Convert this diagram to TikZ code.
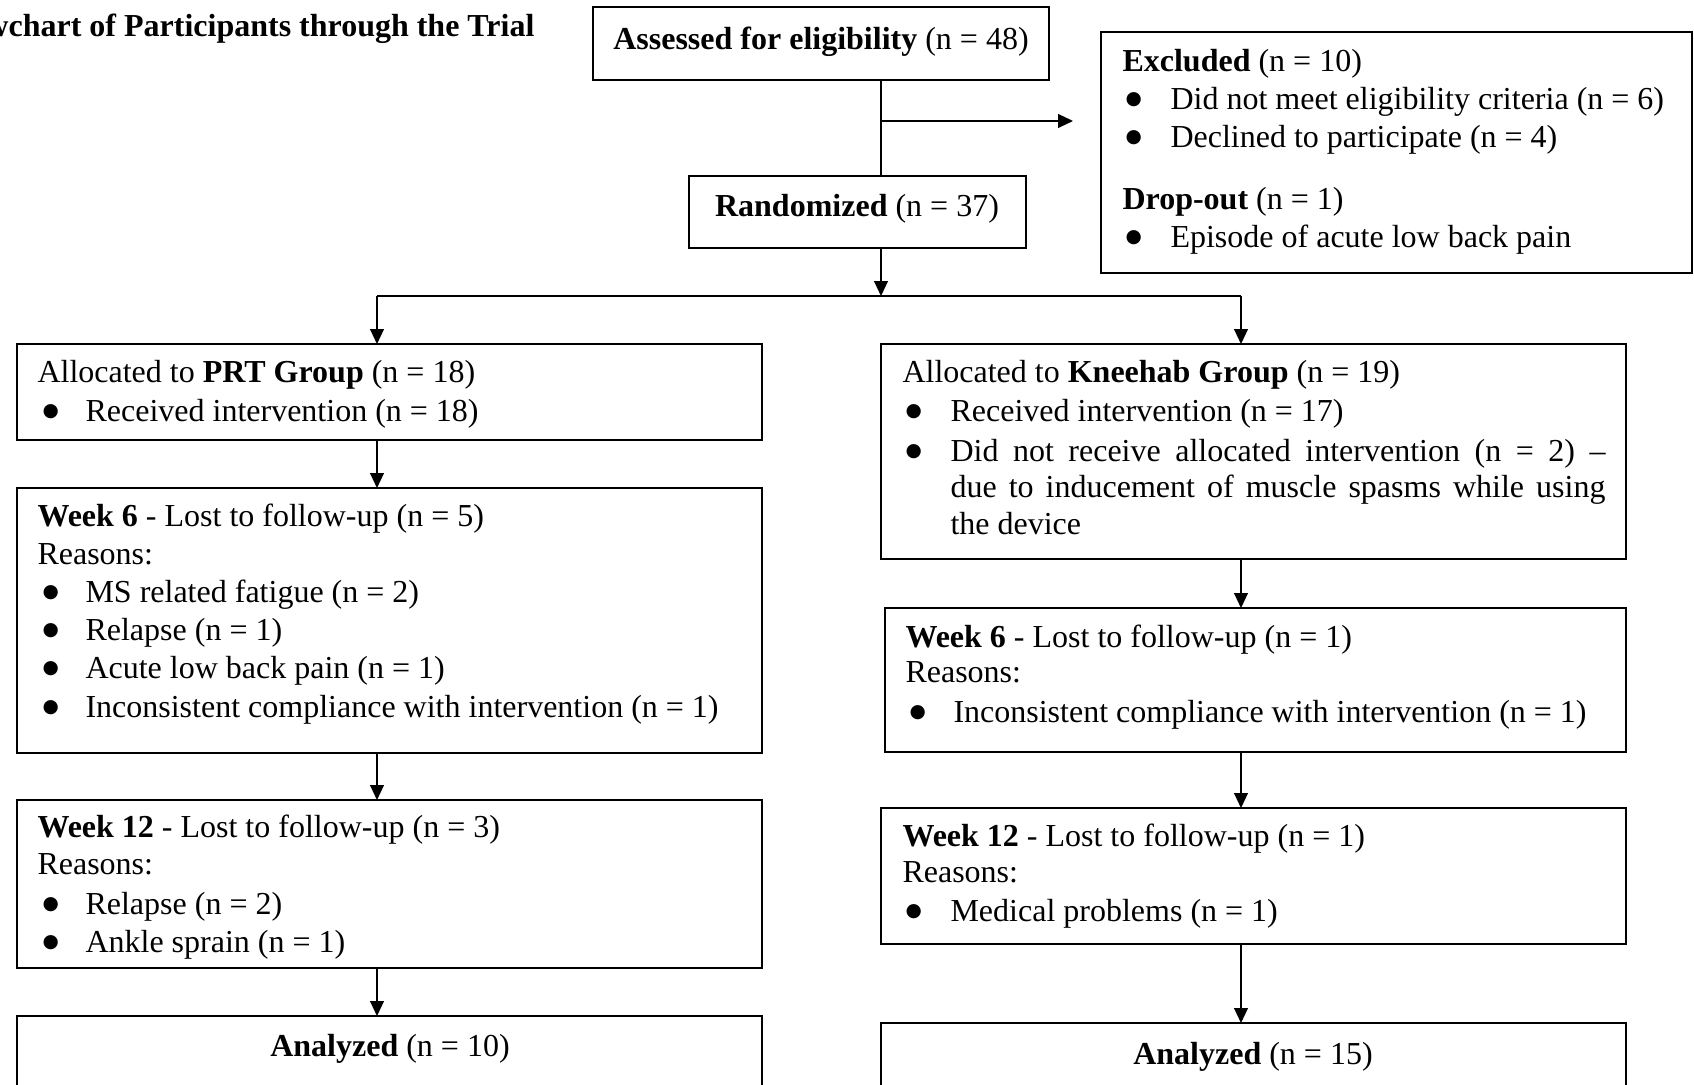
\documentclass[tikz,border=0pt]{standalone}
\usepackage{fontspec}
\setmainfont{Liberation Serif}
\newfontfamily\bulfont{DejaVu Sans}
\usetikzlibrary{arrows.meta,calc}
\newcommand{\flowbx}[5]{\node[flowbox, minimum width={(#4-#2)*0.375pt}, minimum height={(#5-#3)*0.375pt}] (#1) at (#2,#3) {};}
\newcommand{\blt}{\raisebox{1.9pt}{\bulfont\fontsize{7}{7.5}\selectfont ●}}
\begin{document}
\begin{tikzpicture}[x=0.375pt,y=-0.375pt,
  flowbox/.style={draw, line width=0.75pt, anchor=north west, inner sep=0pt, outer sep=0pt},
  txt/.style={anchor=base west, inner sep=0pt, font=\fontsize{12}{14.25}\selectfont},
  ctr/.style={anchor=base, inner sep=0pt, font=\fontsize{12}{14.25}\selectfont},
  conn/.style={line width=0.5pt},
  arr/.style={line width=0.5pt, -{Triangle[length=5.6pt,width=5.2pt]}}]
\useasboundingbox (0,0) rectangle (1694,1085);
\clip (0,0) rectangle (1694,1085);

% title
\node[anchor=base east, inner sep=0pt, font=\fontsize{12}{14.25}\selectfont\bfseries] (title) at (535,37) {Flowchart of Participants through the Trial};

% boxes
\flowbx{assess}{593}{7}{1049}{80}
\flowbx{rand}{689}{176}{1026}{248}
\flowbx{excl}{1101}{32}{1692}{273}
\flowbx{prt}{17}{344}{762}{440}
\flowbx{pwsix}{17}{488}{762}{753}
\flowbx{pwtw}{17}{800}{762}{968}
\flowbx{pan}{17}{1016}{762}{1110}
\flowbx{kal}{881}{344}{1626}{559}
\flowbx{kwsix}{885}{608}{1626}{752}
\flowbx{kwtw}{881}{808}{1626}{944}
\flowbx{kan}{881}{1023}{1626}{1110}

% top texts
\node[ctr] (tassess) at (821,50) {\textbf{Assessed for eligibility} (n = 48)};
\node[ctr] (trand) at (857,217) {\textbf{Randomized} (n = 37)};

% excluded
\node[txt] (te1) at (1122,72) {\textbf{Excluded} (n = 10)};
\node[txt] (be2) at (1125,110) {\blt};
\node[txt] (te2) at (1170,110) {Did not meet eligibility criteria (n = 6)};
\node[txt] (be3) at (1125,148) {\blt};
\node[txt] (te3) at (1170,148) {Declined to participate (n = 4)};
\node[txt] (te4) at (1122,210) {\textbf{Drop-out} (n = 1)};
\node[txt] (be5) at (1125,248) {\blt};
\node[txt] (te5) at (1170,248) {Episode of acute low back pain};

% PRT allocation
\node[txt] (tp1) at (37,383) {Allocated to \textbf{PRT Group} (n = 18)};
\node[txt] (bp2) at (42,422) {\blt};
\node[txt] (tp2) at (85,422) {Received intervention (n = 18)};

% PRT week 6
\node[txt] (tq1) at (37,527) {\textbf{Week 6} - Lost to follow-up (n = 5)};
\node[txt] (tq2) at (37,565) {Reasons:};
\node[txt] (bq3) at (42,603) {\blt};
\node[txt] (tq3) at (85,603) {MS related fatigue (n = 2)};
\node[txt] (bq4) at (42,641) {\blt};
\node[txt] (tq4) at (85,641) {Relapse (n = 1)};
\node[txt] (bq5) at (42,679) {\blt};
\node[txt] (tq5) at (85,679) {Acute low back pain (n = 1)};
\node[txt] (bq6) at (42,718) {\blt};
\node[txt] (tq6) at (85,718) {Inconsistent compliance with intervention (n = 1)};

% PRT week 12
\node[txt] (tr1) at (37,838) {\textbf{Week 12} - Lost to follow-up (n = 3)};
\node[txt] (tr2) at (37,875) {Reasons:};
\node[txt] (br3) at (42,915) {\blt};
\node[txt] (tr3) at (85,915) {Relapse (n = 2)};
\node[txt] (br4) at (42,953) {\blt};
\node[txt] (tr4) at (85,953) {Ankle sprain (n = 1)};

% PRT analyzed
\node[ctr] (ts1) at (390,1057) {\textbf{Analyzed} (n = 10)};

% Kneehab allocation
\node[txt] (tk1) at (902,383) {Allocated to \textbf{Kneehab Group} (n = 19)};
\node[txt] (bk2) at (905,422) {\blt};
\node[txt] (tk2) at (950,422) {Received intervention (n = 17)};
\node[txt] (bk3) at (905,462) {\blt};
\node[txt] (tk3) at (950,462) {\makebox[245.6pt][s]{Did not receive allocated intervention (n = 2) –}};
\node[txt] (tk4) at (950,498) {\makebox[245.6pt][s]{due to inducement of muscle spasms while using}};
\node[txt] (tk5) at (950,535) {the device};

% Kneehab week 6
\node[txt] (tl1) at (905,648) {\textbf{Week 6} - Lost to follow-up (n = 1)};
\node[txt] (tl2) at (905,683) {Reasons:};
\node[txt] (bl3) at (909,723) {\blt};
\node[txt] (tl3) at (953,723) {Inconsistent compliance with intervention (n = 1)};

% Kneehab week 12
\node[txt] (tm1) at (902,847) {\textbf{Week 12} - Lost to follow-up (n = 1)};
\node[txt] (tm2) at (902,883) {Reasons:};
\node[txt] (bm3) at (905,922) {\blt};
\node[txt] (tm3) at (950,922) {Medical problems (n = 1)};

% Kneehab analyzed
\node[ctr] (tn1) at (1253,1065) {\textbf{Analyzed} (n = 15)};

% connectors
\coordinate (cx) at (881,121);
\coordinate (split) at (881,296);
\coordinate (sl) at (377,296);
\coordinate (sr) at (1241,296);
\draw[conn] (assess.south -| cx) -- (rand.north -| cx);
\draw[arr, shorten >=10.5pt] (cx) -- (cx -| excl.west);
\draw[arr] (rand.south -| split) -- (split);
\draw[conn] (sl) -- (sr);
\draw[arr] (sl) -- (sl |- prt.north);
\draw[arr] (sr) -- (sr |- kal.north);
\draw[arr] (prt.south -| sl) -- (pwsix.north -| sl);
\draw[arr] (pwsix.south -| sl) -- (pwtw.north -| sl);
\draw[arr] (pwtw.south -| sl) -- (pan.north -| sl);
\draw[arr] (kal.south -| sr) -- (kwsix.north -| sr);
\draw[arr] (kwsix.south -| sr) -- (kwtw.north -| sr);
\draw[arr] (kwtw.south -| sr) -- (kan.north -| sr);
\end{tikzpicture}
\end{document}
